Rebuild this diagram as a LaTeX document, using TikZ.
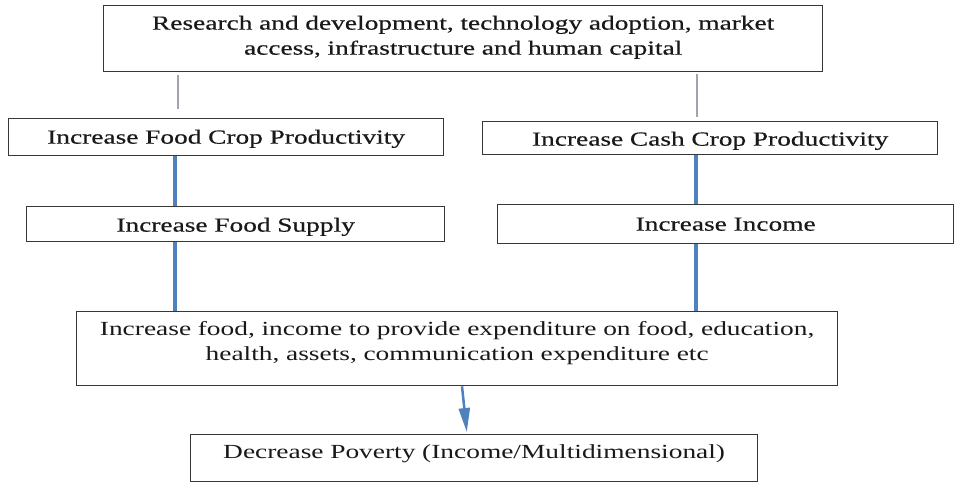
\documentclass[tikz,border=0pt]{standalone}
\usepackage{fontspec}
\setmainfont{Liberation Serif}[FakeStretch=1.37]
\newfontfamily\topfont{Liberation Serif}[FakeStretch=1.37,FakeBold=0.4]
\usetikzlibrary{arrows.meta,calc}
\definecolor{linkblue}{RGB}{79,129,189}
\definecolor{linkgray}{RGB}{160,164,172}
\definecolor{boxline}{RGB}{55,55,55}
\definecolor{txt}{RGB}{25,25,25}
\begin{document}
\begin{tikzpicture}[x=1pt,y=-1pt,
  box/.style={draw=boxline,line width=1.3pt,inner sep=0pt,align=center,
    anchor=north west,text=txt,font=\fontsize{20}{25}\selectfont},
  topbox/.style={box,font=\fontsize{20}{25}\selectfont\topfont},
  grayl/.style={draw=linkgray,line width=2pt},
  bluel/.style={draw=linkblue,line width=4pt},
  arr/.style={draw=linkblue,line width=2.5pt,-{Triangle[length=24pt,width=11pt]},shorten >=2pt}]
\useasboundingbox[fill=white] (0,0) rectangle (960,483);

\node[topbox,text width=719pt,text height=24pt,text depth=42pt] (top) at (103,5)
  {Research and development, technology adoption, market\\access, infrastructure and human capital};
\node[topbox,text width=435pt,text height=25pt,text depth=12pt] (foodprod) at (8,118)
  {Increase Food Crop Productivity};
\node[topbox,text width=455pt,text height=24pt,text depth=9pt] (cashprod) at (482,121)
  {Increase Cash Crop Productivity};
\node[topbox,text width=418pt,text height=25pt,text depth=10pt] (foodsup) at (26,206)
  {Increase Food Supply};
\node[topbox,text width=456pt,text height=26pt,text depth=13pt] (income) at (497,204)
  {Increase Income};
\node[box,text width=761pt,text height=24pt,text depth=50pt] (expend) at (76,311)
  {Increase food, income to provide expenditure on food, education,\\health, assets, communication expenditure etc};
\node[box,text width=567pt,text height=24pt,text depth=23pt] (poverty) at (190,434)
  {Decrease Poverty (Income/Multidimensional)};

\coordinate (gL) at (178,109);
\coordinate (gR) at (697,117);
\coordinate (bL) at (175,0);
\coordinate (bR) at (696,0);
\coordinate (aS) at (462,0);
\coordinate (aE) at (467,0);

\draw[grayl] (top.south -| gL) ++(0,3) -- (gL);
\draw[grayl] (top.south -| gR) ++(0,2) -- (gR);
\draw[bluel] (foodprod.south -| bL) -- (foodsup.north -| bL);
\draw[bluel] (foodsup.south -| bL) -- (expend.north -| bL);
\draw[bluel] (cashprod.south -| bR) -- (income.north -| bR);
\draw[bluel] (income.south -| bR) -- (expend.north -| bR);
\draw[arr] (expend.south -| aS) -- (poverty.north -| aE);
\end{tikzpicture}
\end{document}
